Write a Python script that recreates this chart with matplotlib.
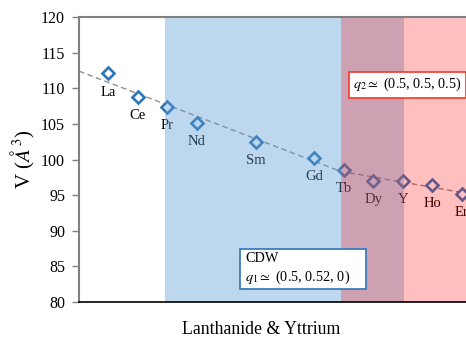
import numpy as np
import matplotlib
matplotlib.use('Agg')
import matplotlib.pyplot as plt
from matplotlib.patches import Rectangle

plt.rcParams['font.family'] = ['Liberation Serif', 'DejaVu Serif']
plt.rcParams['mathtext.fontset'] = 'stix'

elements = ['La', 'Ce', 'Pr', 'Nd', 'Sm', 'Gd', 'Tb', 'Dy', 'Y', 'Ho', 'Er']
positions = [1, 2, 3, 4, 6, 8, 9, 10, 11, 12, 13]
volumes = [112.1, 108.8, 107.4, 105.1, 102.5, 100.2, 98.5, 97.0, 97.0, 96.4, 95.2]
cdw1_span = (2.92, 11.05)
cdw2_span = (8.9, 15.0)
yticks = [80, 85, 90, 95, 100, 105, 110, 115, 120]

fig = plt.figure(figsize=(4.66, 3.4), dpi=100)
ax = fig.add_axes([79/466, 38/340, 412/466, 285/340])
ax.set_xlim(0, 14)
ax.set_ylim(80, 120)

# two-segment linear trend (light rare earths / heavy rare earths)
p = np.array(positions, float)
v = np.array(volumes, float)
m1 = p <= 9
m2 = p >= 9
a1 = np.polyfit(p[m1], v[m1], 1)
a2 = np.polyfit(p[m2], v[m2], 1)
xk = (a2[1] - a1[1]) / (a1[0] - a2[0])
xa = np.array([0, xk])
xb = np.array([xk, 14])
ax.plot(np.r_[xa, xb[1:]], np.r_[np.polyval(a1, xa), np.polyval(a2, xb[1:])],
        color='#8f8f8f', lw=1.0, dashes=(4, 2.5), zorder=2)

ax.plot(positions, volumes, ls='none', marker='D', ms=6.2, mew=1.9,
        mec='#2E75B6', mfc='white', zorder=3)
for el, x, val in zip(elements, positions, volumes):
    ax.annotate(el, (x, val), xytext=(0, -13.5), textcoords='offset points',
                ha='center', va='center', fontsize=10.5, color='black', zorder=3)

ax.axvspan(*cdw1_span, color='#5B9BD5', alpha=0.4, lw=0, zorder=5)
ax.axvspan(*cdw2_span, color='#FF0000', alpha=0.25, lw=0, zorder=5)

ax.add_patch(Rectangle((5.47, 81.8), 4.28, 5.6, fc='white', ec='#2E75B6', lw=1.2, zorder=7))
ax.text(5.64, 84.6, 'CDW\n$q_1 \\simeq$ (0.5, 0.52, 0)', fontsize=10.3, ha='left', va='center',
        zorder=8, linespacing=1.3)
ax.text(9.32, 110.5, '$q_2 \\simeq$ (0.5, 0.5, 0.5)', fontsize=10.3, ha='left', va='center',
        zorder=8,
        bbox=dict(boxstyle='square,pad=0.3', fc='white', ec='#F03A28', lw=1.2))

ax.set_xticks([])
ax.set_yticks(yticks)
ax.tick_params(axis='y', direction='out', length=5, width=1, color='#808080',
               labelsize=11.5, pad=5)
for s in ['left', 'top']:
    ax.spines[s].set_color('#808080')
    ax.spines[s].set_linewidth(1.5)
ax.spines['bottom'].set_color('black')
ax.spines['bottom'].set_linewidth(1.2)
ax.spines['right'].set_visible(False)
for s in ax.spines.values():
    s.set_zorder(10)

ax.set_ylabel('V ($\\AA^{3}$)', fontsize=15, labelpad=3)
fig.text(261/466, 1 - 330/340, 'Lanthanide & Yttrium', ha='center', va='center', fontsize=12.8)

fig.savefig('out.png', dpi=100)
